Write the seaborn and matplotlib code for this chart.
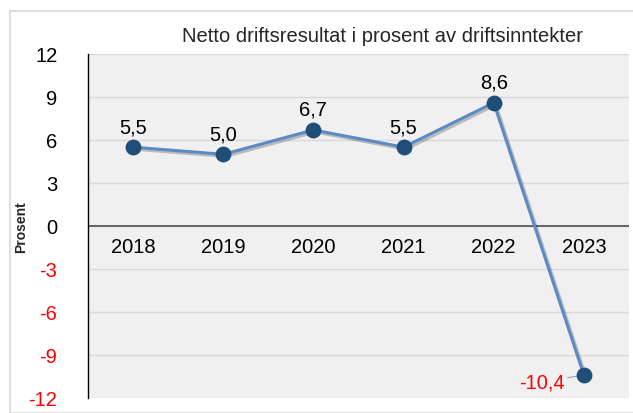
import matplotlib
matplotlib.use("Agg")
import matplotlib.pyplot as plt
import seaborn as sns
import pandas as pd
import matplotlib.patheffects as pe
from matplotlib.patches import Rectangle

years = ["2018", "2019", "2020", "2021", "2022", "2023"]
values = [5.5, 5.0, 6.7, 5.5, 8.6, -10.4]
labels = ["5,5", "5,0", "6,7", "5,5", "8,6", "-10,4"]
yticks = [-12, -9, -6, -3, 0, 3, 6, 9, 12]

sns.set_theme(style="white")
plt.rcParams["font.family"] = ["Liberation Sans", "DejaVu Sans"]

FS = 14.5
W, H = 633, 414
fig = plt.figure(figsize=(W / 100, H / 100), dpi=100)
fig.patches.append(Rectangle((10 / W, 0), 1, 1 - 12 / H, transform=fig.transFigure,
                             fill=False, edgecolor="#d9d9d9", linewidth=1.2))
ax = fig.add_axes([88 / W, 1 - 399 / H, (629 - 88) / W, (399 - 55) / H])
ax.set_facecolor("#f0f0f0")

df = pd.DataFrame({"x": range(len(years)), "val": values})
sns.lineplot(data=df, x="x", y="val", ax=ax, color="#5b8ac6", linewidth=2.2,
             zorder=4,
             path_effects=[pe.SimpleLineShadow(offset=(1.5, -1.5), alpha=0.25), pe.Normal()])
sns.scatterplot(data=df, x="x", y="val", ax=ax, color="#1f4e79", s=130,
                edgecolor="#1f4e79", linewidth=0, zorder=5, legend=False)

ax.set_xlim(-0.5, 5.5)
ax.set_ylim(-12, 12)
ax.set_yticks(yticks)
ax.set_yticklabels([str(t) for t in yticks], fontsize=FS)
for t, lab in zip(yticks, ax.get_yticklabels()):
    lab.set_color("red" if t < 0 else "black")
ax.tick_params(axis="y", length=0, pad=22)
ax.set_xticks([])
ax.grid(axis="y", color="#d9d9d9", linewidth=1)
ax.set_axisbelow(True)
ax.axhline(0, color="#595959", linewidth=1.3, zorder=2)
for s in ["top", "right", "bottom"]:
    ax.spines[s].set_visible(False)
ax.spines["left"].set_color("black")
ax.spines["left"].set_linewidth(1)

for i, y in enumerate(years):
    ax.text(i, -0.75, y, ha="center", va="top", fontsize=FS, color="black")

for i, (v, lab) in enumerate(zip(values, labels)):
    if v >= 0:
        ax.annotate(lab, (i, v), xytext=(0, 8), textcoords="offset points",
                    ha="center", va="bottom", fontsize=FS, color="black")
    else:
        ax.annotate(lab, (i, v), xytext=(-14, -5), textcoords="offset points",
                    ha="right", va="center", fontsize=FS, color="red",
                    arrowprops=dict(arrowstyle="-", color="#a6a6a6", lw=0.8,
                                    shrinkA=0, shrinkB=3))

ax.set_xlabel("")
ax.set_ylabel("Prosent", fontsize=10, fontweight="bold")
ax.yaxis.set_label_coords(-60 / (629 - 88), (399 - 227) / (399 - 55))
fig.text(383 / W, 1 - 37 / H, "Netto driftsresultat i prosent av driftsinntekter",
         ha="center", va="center", fontsize=FS)

fig.savefig("out.png", dpi=100)
